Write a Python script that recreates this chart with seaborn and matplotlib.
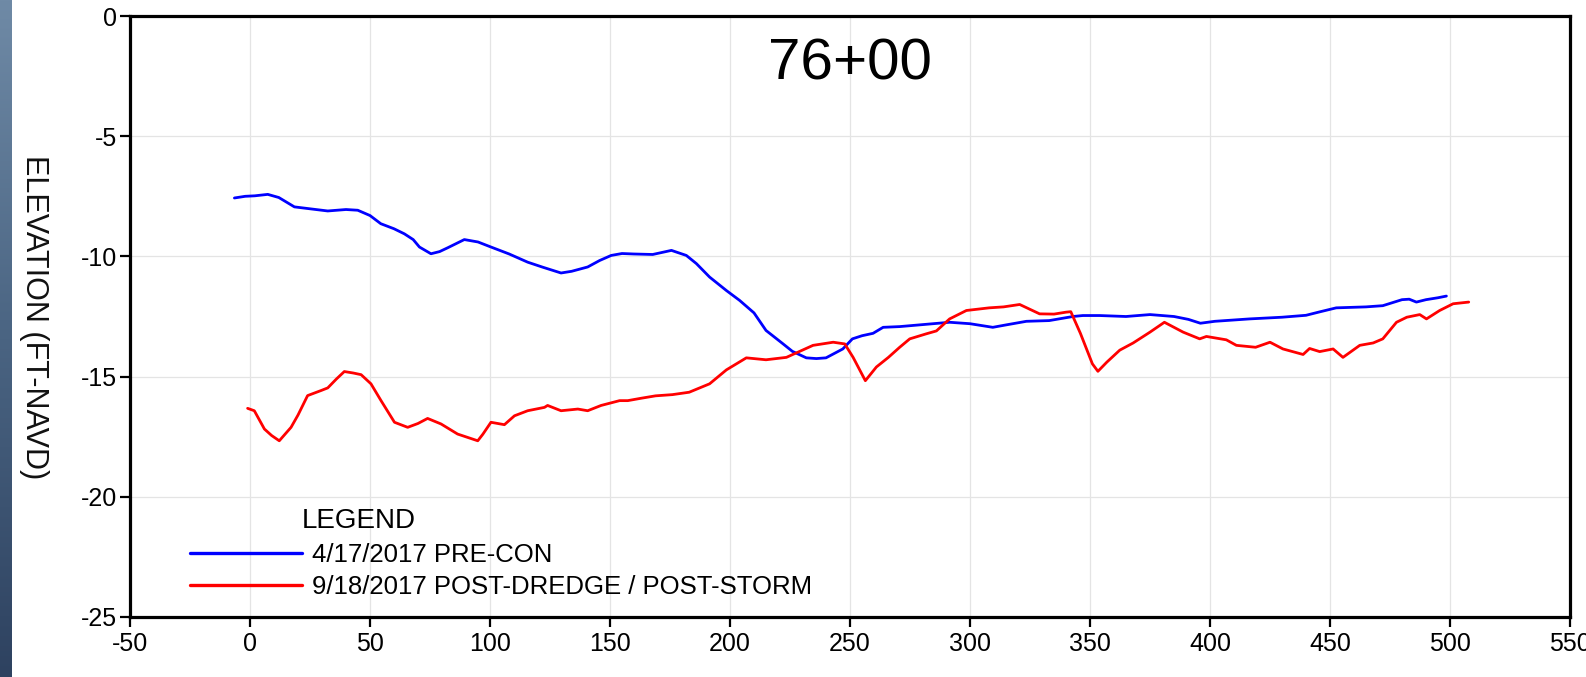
import numpy as np
import pandas as pd
import matplotlib
matplotlib.use("Agg")
import matplotlib.pyplot as plt
from matplotlib.colors import LinearSegmentedColormap
import seaborn as sns

# Station 76+00 cross-section survey (offset in ft, elevation in ft NAVD)
pre_offset = [-6.5, -2, 2, 7.4, 12, 18.5, 25, 32.4, 40, 44.9, 50, 54.5, 60, 64.3, 68,
              70.6, 75.4, 79, 82.4, 89.3, 95, 100.4, 108, 115.7, 122, 129.6, 134,
              140.7, 145.7, 150.5, 155, 160, 167.8, 175.6, 181.8, 186, 191.5, 198.5,
              204, 210, 215, 222, 226, 231.8, 236, 240, 247, 251, 255, 259.6, 263.8,
              270.7, 284.6, 291.5, 300, 309.5, 315, 323.5, 333, 342.9, 347, 354, 365,
              375, 385, 391, 396, 402, 416.5, 430, 440, 446, 452.6, 465, 472, 480,
              483, 486, 490, 495, 498.5]
pre_elev = [-7.57, -7.5, -7.48, -7.42, -7.55, -7.94, -8.02, -8.11, -8.05, -8.08, -8.3,
            -8.64, -8.85, -9.06, -9.3, -9.61, -9.89, -9.8, -9.64, -9.3, -9.4, -9.61,
            -9.9, -10.24, -10.45, -10.69, -10.62, -10.44, -10.17, -9.96, -9.88, -9.9,
            -9.92, -9.75, -9.96, -10.3, -10.86, -11.42, -11.83, -12.35, -13.08, -13.63,
            -13.95, -14.22, -14.25, -14.22, -13.85, -13.43, -13.3, -13.2, -12.95, -12.92,
            -12.8, -12.74, -12.8, -12.95, -12.85, -12.7, -12.67, -12.5, -12.46, -12.46,
            -12.5, -12.42, -12.5, -12.62, -12.78, -12.7, -12.6, -12.53, -12.45, -12.3,
            -12.14, -12.1, -12.05, -11.8, -11.78, -11.9, -11.8, -11.72, -11.65]

post_offset = [-1, 1.8, 6, 9, 12.2, 17.1, 20, 24, 29.6, 32.4, 36, 39.3, 43, 46.3, 50.4,
               54.6, 60.2, 65.7, 70, 74, 79.6, 86.5, 94.9, 97, 100.4, 106, 110.2, 115.7,
               122.7, 124, 129.6, 136.6, 140.7, 146.3, 154, 157.4, 163, 169, 176, 183,
               191.5, 198.5, 206.8, 215, 223.5, 234.6, 243, 247.8, 251.3, 256.4, 261,
               266, 270.7, 274.9, 281.8, 286, 291.5, 298.5, 308, 314, 320.7, 329, 335,
               340, 342, 346, 351, 353.3, 357, 362.4, 368, 375, 381, 388.8, 395.7, 398.5,
               406.8, 411, 419, 425, 430.4, 438.8, 441.5, 445.7, 451.3, 455.4, 462.4,
               468, 472, 477.7, 482, 487.4, 490.2, 495.7, 501.3, 507.8]
post_elev = [-16.32, -16.42, -17.18, -17.45, -17.67, -17.11, -16.6, -15.79, -15.58,
             -15.47, -15.1, -14.79, -14.85, -14.92, -15.3, -16.0, -16.9, -17.11, -16.95,
             -16.74, -16.97, -17.39, -17.67, -17.4, -16.9, -17.0, -16.63, -16.42, -16.28,
             -16.2, -16.42, -16.35, -16.42, -16.2, -16.0, -16.0, -15.9, -15.8, -15.75,
             -15.65, -15.3, -14.72, -14.22, -14.3, -14.2, -13.7, -13.57, -13.64, -14.2,
             -15.17, -14.6, -14.2, -13.78, -13.43, -13.22, -13.1, -12.6, -12.25, -12.14,
             -12.1, -12.0, -12.39, -12.4, -12.32, -12.3, -13.2, -14.47, -14.78, -14.4,
             -13.9, -13.6, -13.15, -12.74, -13.15, -13.43, -13.33, -13.47, -13.7, -13.78,
             -13.57, -13.85, -14.08, -13.83, -13.96, -13.85, -14.2, -13.7, -13.6, -13.43,
             -12.74, -12.53, -12.42, -12.6, -12.25, -11.97, -11.9]

pre_label = "4/17/2017 PRE-CON"
post_label = "9/18/2017 POST-DREDGE / POST-STORM"
station = "76+00"
y_title = "ELEVATION (FT-NAVD)"
x_ticks = list(range(-50, 551, 50))
y_ticks = list(range(-25, 1, 5))

sns.set_theme(style="whitegrid")
plt.rcParams["font.family"] = ["Liberation Sans", "DejaVu Sans"]
plt.rcParams["axes.unicode_minus"] = False
plt.rcParams["text.color"] = "black"

W, H = 1586, 677
fig = plt.figure(figsize=(W / 100, H / 100), dpi=100)
fig.patch.set_facecolor("white")

# decorative water-coloured strip at the left edge
strip = fig.add_axes([0, 0, 12 / W, 1])
grad = np.linspace(0, 1, 256).reshape(-1, 1)
cmap = LinearSegmentedColormap.from_list("water", ["#6f8aa6", "#4a6482", "#2e4260"])
strip.imshow(grad, aspect="auto", cmap=cmap, extent=[0, 1, 0, 1], origin="upper")
strip.set_axis_off()

ax = fig.add_axes([130 / W, 1 - 617 / H, 1440 / W, 601 / H])
ax.set_facecolor("white")

pre = pd.DataFrame({"offset": pre_offset, "elev": pre_elev})
post = pd.DataFrame({"offset": post_offset, "elev": post_elev})
sns.lineplot(data=pre, x="offset", y="elev", ax=ax, color="#0000ff", lw=2.0,
             estimator=None, label=pre_label)
sns.lineplot(data=post, x="offset", y="elev", ax=ax, color="#ff0000", lw=2.0,
             estimator=None, label=post_label)

ax.set_xlim(-50, 550)
ax.set_ylim(-25, 0)
ax.set_xticks(x_ticks)
ax.set_yticks(y_ticks)
ax.set_xlabel("")
ax.set_ylabel("")
ax.grid(True, color="#e4e4e4", lw=0.9)
for s in ax.spines.values():
    s.set_visible(True)
    s.set_color("black")
    s.set_linewidth(2.3)
ax.tick_params(axis="both", which="major", direction="out", length=7.5, width=1.6,
               color="black", labelsize=18, labelcolor="black", bottom=True, left=True)
ax.tick_params(axis="x", pad=3.5)
ax.tick_params(axis="y", pad=1.5)

ax.text(250, -2.0, station, fontsize=42, ha="center", va="center", color="black")

fig.text(34 / W, 1 - 317 / H, y_title, rotation=270, fontsize=22, ha="center",
         va="center", color="#111111")

fig.text(302 / W, 1 - 528 / H, "LEGEND", fontsize=20, ha="left", va="baseline",
         color="black")
leg = ax.legend(loc="upper left", bbox_to_anchor=(190 / W, 1 - 543 / H),
                bbox_transform=fig.transFigure, frameon=False, fontsize=18.5,
                handlelength=4.35, handletextpad=0.4, labelspacing=0.3,
                borderpad=0, borderaxespad=0, labelcolor="black")
for h in leg.get_lines():
    h.set_linewidth(2.4)

fig.savefig("out.png", dpi=100, facecolor="white")
